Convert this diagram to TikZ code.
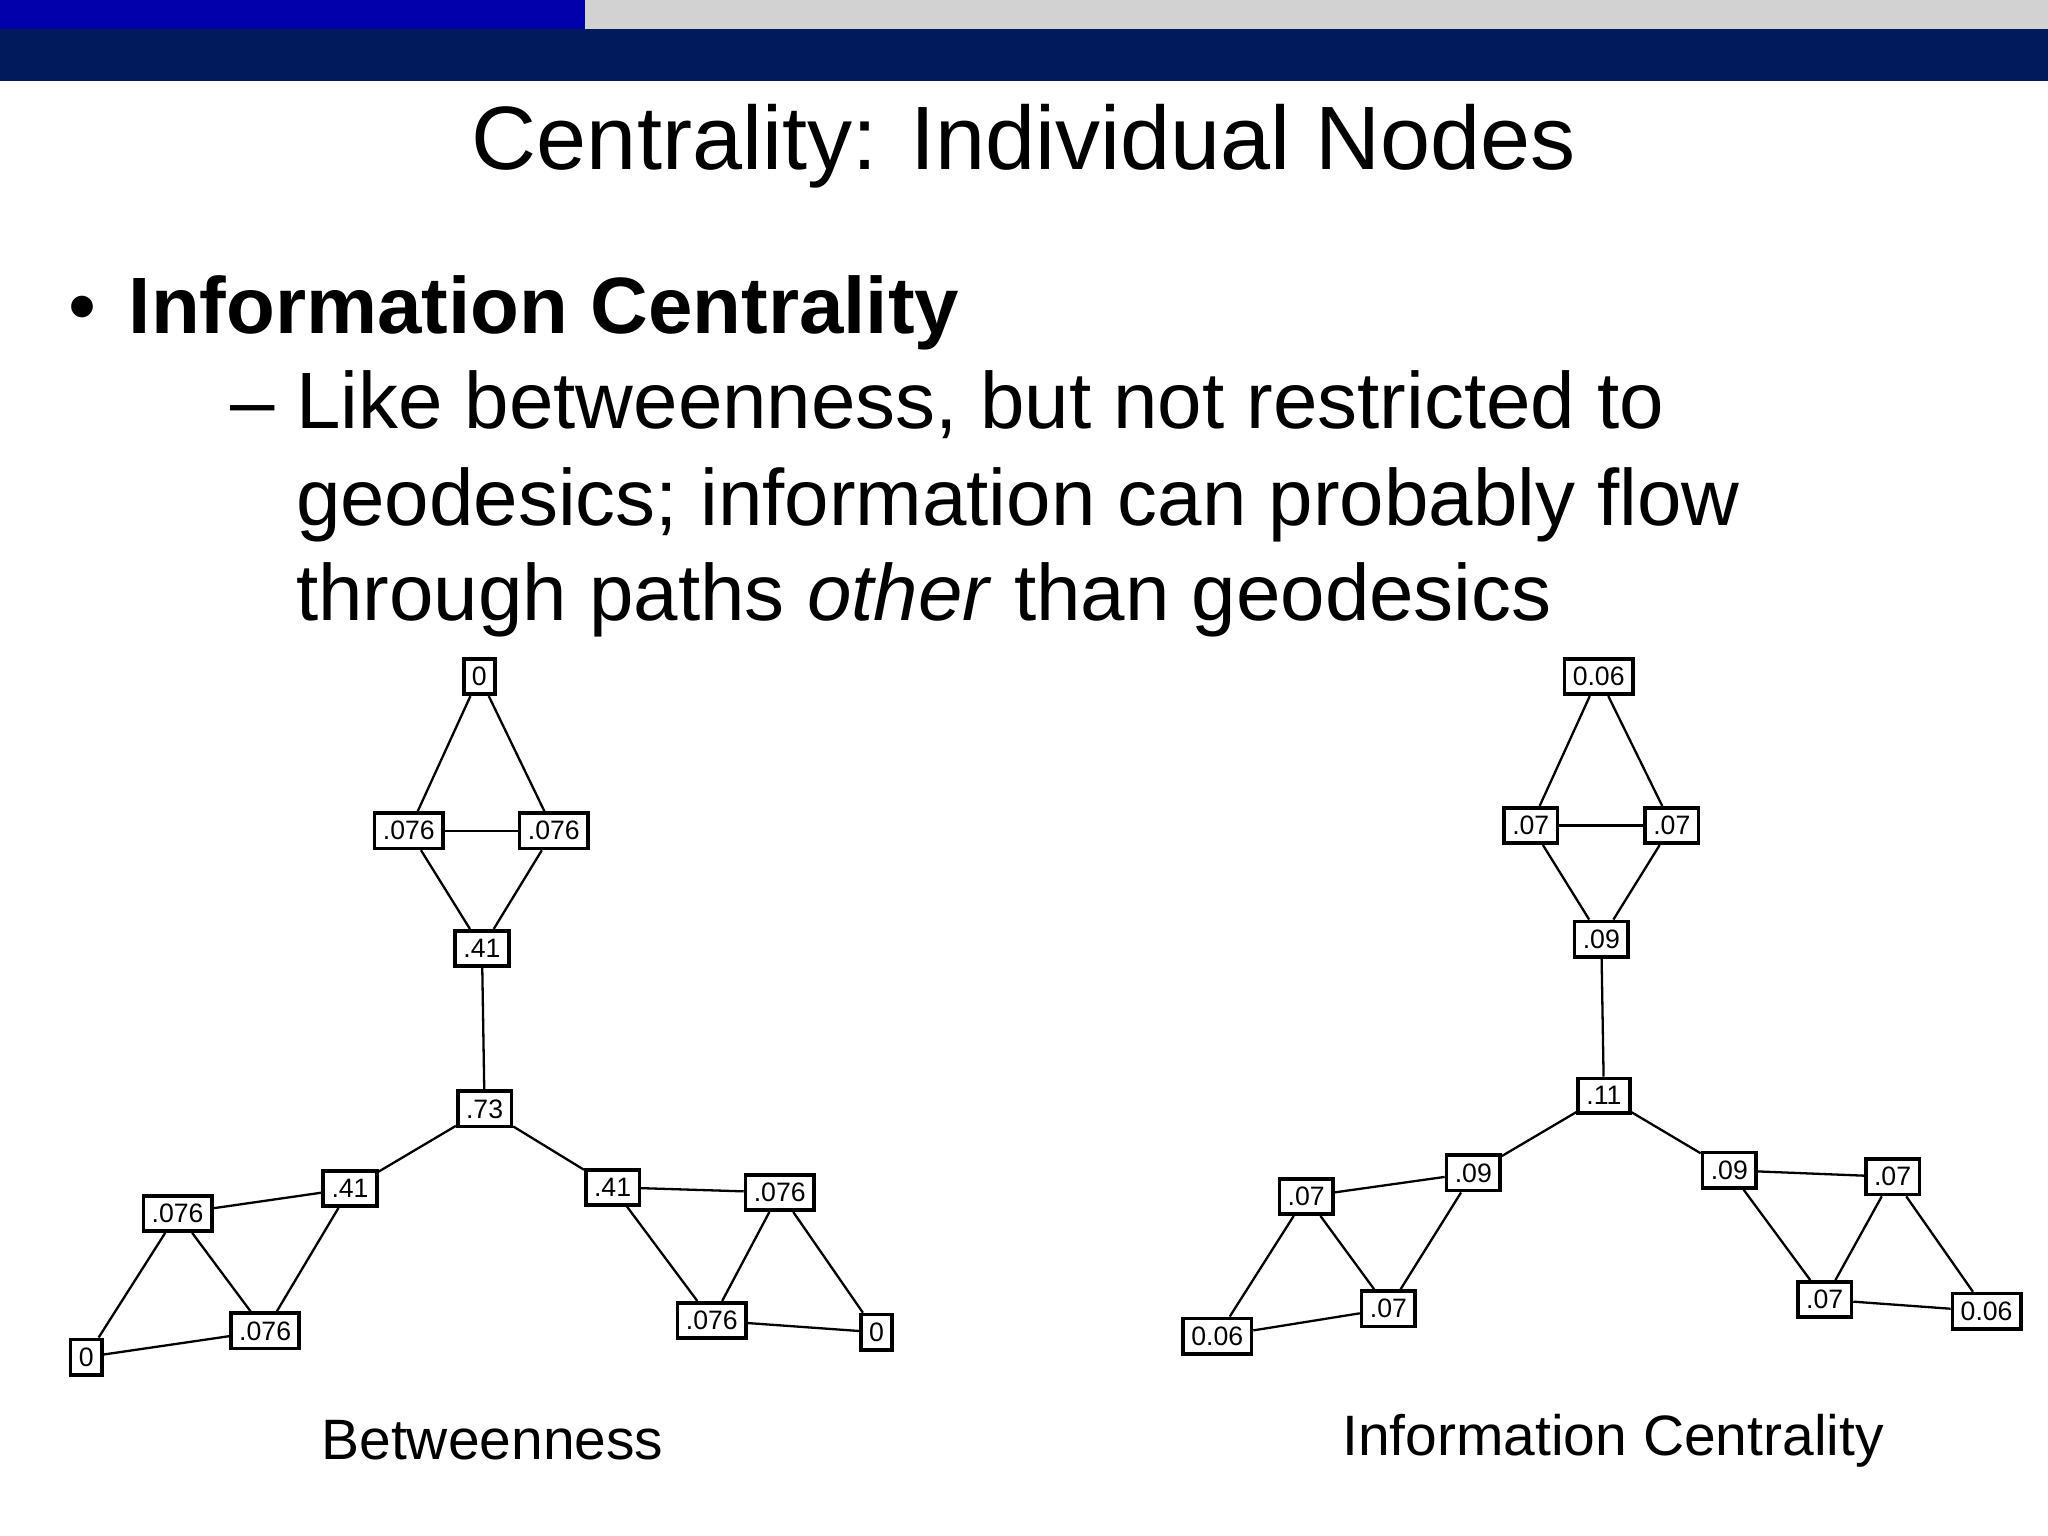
\documentclass[tikz,border=0pt]{standalone}
\usepackage{fontspec}
\setmainfont{Liberation Sans}
\begin{document}
\begin{tikzpicture}[x=0.01cm,y=-0.01cm,
  vb/.style={draw,thick,fill=white,inner sep=1.8pt,minimum height=0.26cm,font=\fontsize{5.8}{6.5}\selectfont},
  ed/.style={draw,line width=0.5pt},
  txt/.style={anchor=base west,inner sep=0pt,font=\fontsize{17.4}{21}\selectfont}]
\useasboundingbox (0,0) rectangle (1568,1176);
\fill[white] (0,0) rectangle (1568,1176);
\fill[fill={rgb,255:red,0;green,0;blue,170}] (0,0) rectangle (448,22);
\fill[fill={rgb,255:red,210;green,210;blue,210}] (448,0) rectangle (1568,22);
\fill[fill={rgb,255:red,0;green,26;blue,92}] (0,22) rectangle (1568,62);
\node[font=\fontsize{19.6}{24}\selectfont] (title) at (784,112) {Centrality: Individual Nodes};
\node[txt] (bul) at (52,255) {•};
\node[txt,font=\fontsize{17.4}{21}\selectfont\bfseries] (h1) at (98,255) {Information Centrality};
\node[txt] (dash) at (176,328) {–};
\node[txt] (l1) at (226,328) {Like betweenness, but not restricted to};
\node[txt] (l2) at (226,402) {geodesics; information can probably flow};
\node[txt] (l3) at (226,475) {through paths \textit{other} than geodesics};
% left graph
\node[vb] (t0) at (367,518) {0};
\node[vb] (a) at (313,636) {.076};
\node[vb] (b) at (424,636) {.076};
\node[vb] (c) at (369,726) {.41};
\node[vb] (d) at (371,849) {.73};
\node[vb] (e) at (268,910) {.41};
\node[vb] (f) at (136,929) {.076};
\node[vb] (g) at (203,1019) {.076};
\node[vb] (h) at (66,1039) {0};
\node[vb] (i) at (469,909) {.41};
\node[vb] (j) at (597,913) {.076};
\node[vb] (k) at (545,1011) {.076};
\node[vb] (l) at (671,1020) {0};
\foreach \u/\v in {t0/a,t0/b,a/b,a/c,b/c,c/d,d/e,d/i,e/f,e/g,f/g,f/h,h/g,i/j,i/k,j/k,j/l,k/l}
  \draw[ed] (\u) -- (\v);
% right graph
\node[vb] (T) at (1224,518) {0.06};
\node[vb] (A) at (1172,632) {.07};
\node[vb] (B) at (1280,632) {.07};
\node[vb] (C) at (1226,719) {.09};
\node[vb] (D) at (1228,839) {.11};
\node[vb] (E) at (1128,898) {.09};
\node[vb] (F) at (1000,916) {.07};
\node[vb] (G) at (1063,1002) {.07};
\node[vb] (H) at (932,1023) {0.06};
\node[vb] (I) at (1324,896) {.09};
\node[vb] (J) at (1449,901) {.07};
\node[vb] (K) at (1397,995) {.07};
\node[vb] (L) at (1521,1004) {0.06};
\foreach \u/\v in {T/A,T/B,A/B,A/C,B/C,C/D,D/E,D/I,E/F,E/G,F/G,F/H,H/G,I/J,I/K,J/K,J/L,K/L}
  \draw[ed] (\u) -- (\v);
\node[font=\fontsize{12.4}{14}\selectfont] (cap1) at (377,1103) {Betweenness};
\node[font=\fontsize{12.4}{14}\selectfont] (cap2) at (1235,1103) {Information Centrality};
\end{tikzpicture}
\end{document}
